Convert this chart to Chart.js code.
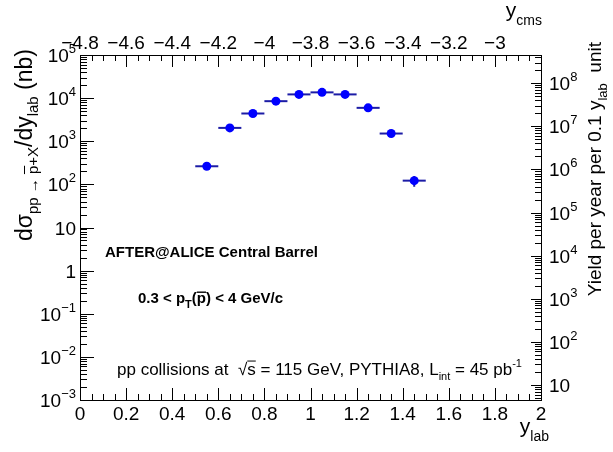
<!DOCTYPE html>
<html>
<head>
<meta charset="utf-8">
<script src="https://cdn.jsdelivr.net/npm/chart.js@4.4.0/dist/chart.umd.min.js"></script>
<style>
  html, body { margin: 0; padding: 0; background: #fff; }
  canvas { display: block; }
</style>
</head>
<body>
<canvas id="chart" width="613" height="452"></canvas>
<script>
// rapidity bins (lab frame) and cross sections
const yLab = [0.55, 0.65, 0.75, 0.85, 0.95, 1.05, 1.15, 1.25, 1.35, 1.45];
const yLabHalfBin = [0.05, 0.05, 0.05, 0.05, 0.05, 0.05, 0.05, 0.05, 0.05, 0.05];
const dSigmaNb = [263, 2040, 4400, 8500, 12200, 13600, 12200, 5950, 1510, 122];
const dSigmaErr = [0, 0, 0, 0, 0, 0, 0, 0, 0, 34];

// axes
const yLabTicks = [0, 0.2, 0.4, 0.6, 0.8, 1, 1.2, 1.4, 1.6, 1.8, 2];
const yLabTickLabels = ['0', '0.2', '0.4', '0.6', '0.8', '1', '1.2', '1.4', '1.6', '1.8', '2'];
const yCmsTicks = [-4.8, -4.6, -4.4, -4.2, -4, -3.8, -3.6, -3.4, -3.2, -3];
const yCmsTickLabels = ['\u22124.8', '\u22124.6', '\u22124.4', '\u22124.2', '\u22124', '\u22123.8', '\u22123.6', '\u22123.4', '\u22123.2', '\u22123'];
const sigmaDecades = [-3, -2, -1, 0, 1, 2, 3, 4, 5];
const yieldDecades = [1, 2, 3, 4, 5, 6, 7, 8];
const yieldPerNb = 4500; // 45 pb^-1 x 0.1 unit of y_lab

const FONT = "'Liberation Sans', Arial, Helvetica, sans-serif";
const LBL = 19;   // tick label size
const SUP = 13;   // exponent size

function fontOf(p) {
    return (p.bold ? 'bold ' : '') + p.size + 'px ' + FONT;
}

// draws a list of text pieces (sub/superscripts via dy), returns width
function drawRich(ctx, parts, x, y, align) {
    let w = 0;
    parts.forEach(p => {
        ctx.font = fontOf(p);
        p.w = ctx.measureText(p.t).width;
        w += p.w;
    });
    let cx = align === 'right' ? x - w : align === 'center' ? x - w / 2 : x;
    ctx.textAlign = 'left';
    ctx.textBaseline = 'alphabetic';
    parts.forEach(p => {
        ctx.font = fontOf(p);
        const by = y + (p.dy || 0);
        ctx.fillText(p.t, cx, by);
        if (p.bar) {
            const top = by - p.size * (p.barH || 0.78);
            ctx.beginPath();
            ctx.lineWidth = p.bold ? 1.4 : 1;
            ctx.moveTo(cx + (p.barFrom || 0), top);
            ctx.lineTo(cx + p.w, top);
            ctx.stroke();
        }
        cx += p.w;
    });
    return w;
}

function powLabel(d) {
    if (d === 0) return [{ t: '1', size: LBL }];
    if (d === 1) return [{ t: '10', size: LBL }];
    const e = d < 0 ? '\u2212' + (-d) : String(d);
    return [{ t: '10', size: LBL }, { t: e, size: SUP, dy: -9 }];
}

function logTicks(min, max) {
    const out = [];
    const d0 = Math.floor(Math.log10(min)), d1 = Math.ceil(Math.log10(max));
    for (let d = d0; d <= d1; d++) {
        for (let m = 1; m <= 9; m++) {
            const v = m * Math.pow(10, d);
            if (v >= min * 0.999 && v <= max * 1.001) out.push({ v, major: m === 1 });
        }
    }
    return out;
}

const rootAxes = {
    id: 'rootAxes',
    beforeDraw(chart) {
        const ctx = chart.ctx;
        ctx.save();
        ctx.fillStyle = '#fff';
        ctx.fillRect(0, 0, chart.width, chart.height);
        ctx.restore();
    },
    beforeDatasetsDraw(chart) {
        // horizontal bin-width bars and vertical errors
        const ctx = chart.ctx;
        const xs = chart.scales.x, ys = chart.scales.y;
        ctx.save();
        ctx.strokeStyle = '#1c1ca6';
        ctx.lineWidth = 2;
        yLab.forEach((x, i) => {
            const py = ys.getPixelForValue(dSigmaNb[i]);
            ctx.beginPath();
            ctx.moveTo(xs.getPixelForValue(x - yLabHalfBin[i]), py);
            ctx.lineTo(xs.getPixelForValue(x + yLabHalfBin[i]), py);
            ctx.stroke();
            if (dSigmaErr[i] > 0) {
                const px = xs.getPixelForValue(x);
                ctx.beginPath();
                ctx.moveTo(px, ys.getPixelForValue(dSigmaNb[i] - dSigmaErr[i]));
                ctx.lineTo(px, ys.getPixelForValue(dSigmaNb[i] + dSigmaErr[i]));
                ctx.stroke();
            }
        });
        ctx.restore();
    },
    afterDraw(chart) {
        const ctx = chart.ctx;
        const a = chart.chartArea;
        const xs = chart.scales.x, x2 = chart.scales.x2, ys = chart.scales.y, y2 = chart.scales.y2;
        ctx.save();
        ctx.strokeStyle = '#000';
        ctx.fillStyle = '#000';
        ctx.lineWidth = 1;
        ctx.strokeRect(Math.round(a.left) + 0.5, Math.round(a.top) + 0.5,
            Math.round(a.right - a.left), Math.round(a.bottom - a.top));

        const line = (x0, y0, x1, y1) => {
            ctx.beginPath();
            ctx.moveTo(x0, y0);
            ctx.lineTo(x1, y1);
            ctx.stroke();
        };

        // bottom and top axis ticks (every 0.05, major every 0.2)
        for (let i = 0; i <= 40; i++) {
            const len = i % 4 === 0 ? 12 : 6;
            const px = Math.round(xs.getPixelForValue(xs.min + i * 0.05)) + 0.5;
            line(px, a.bottom, px, a.bottom - len);
            const pt = Math.round(x2.getPixelForValue(x2.min + i * 0.05)) + 0.5;
            line(pt, a.top, pt, a.top + len);
        }
        // left axis ticks
        logTicks(ys.min, ys.max).forEach(t => {
            const py = Math.round(ys.getPixelForValue(t.v)) + 0.5;
            line(a.left, py, a.left + (t.major ? 14 : 7), py);
        });
        // right axis ticks
        logTicks(y2.min, y2.max).forEach(t => {
            const py = Math.round(y2.getPixelForValue(t.v)) + 0.5;
            line(a.right, py, a.right - (t.major ? 10 : 6), py);
        });

        // tick labels
        yLabTicks.forEach((v, i) => {
            drawRich(ctx, [{ t: yLabTickLabels[i], size: LBL }], xs.getPixelForValue(v), a.bottom + 20, 'center');
        });
        yCmsTicks.forEach((v, i) => {
            drawRich(ctx, [{ t: yCmsTickLabels[i], size: LBL }], x2.getPixelForValue(v), a.top - 6, 'center');
        });
        sigmaDecades.forEach(d => {
            drawRich(ctx, powLabel(d), a.left - 4, ys.getPixelForValue(Math.pow(10, d)) + 7, 'right');
        });
        yieldDecades.forEach(d => {
            drawRich(ctx, powLabel(d), a.right + 8, y2.getPixelForValue(Math.pow(10, d)) + 7, 'left');
        });

        // axis titles
        drawRich(ctx, [{ t: 'y', size: 21 }, { t: 'lab', size: 14, dy: 8 }], 549, 433, 'right');
        drawRich(ctx, [{ t: 'y', size: 21 }, { t: 'cms', size: 14, dy: 8 }], 542, 17, 'right');

        ctx.save();
        ctx.translate(32, 49);
        ctx.rotate(-Math.PI / 2);
        drawRich(ctx, [
            { t: 'd\u03c3', size: 23 },
            { t: 'pp \u2192 ', size: 15, dy: 6 },
            { t: 'p', size: 15, dy: 6, bar: true, barH: 0.9 },
            { t: '+X', size: 15, dy: 6 },
            { t: '/dy', size: 23 },
            { t: 'lab', size: 15, dy: 6 },
            { t: ' (nb)', size: 23 }
        ], 0, 0, 'right');
        ctx.restore();

        ctx.save();
        ctx.translate(601, 42);
        ctx.rotate(-Math.PI / 2);
        drawRich(ctx, [
            { t: 'Yield per year per 0.1 y', size: 19 },
            { t: 'lab', size: 13, dy: 6 },
            { t: '  unit', size: 19 }
        ], 0, 0, 'right');
        ctx.restore();

        // labels inside the frame
        drawRich(ctx, [{ t: 'AFTER@ALICE Central Barrel', size: 15, bold: true }], 105, 257, 'left');
        drawRich(ctx, [
            { t: '0.3 < p', size: 15, bold: true },
            { t: 'T', size: 11, bold: true, dy: 5 },
            { t: '(', size: 15, bold: true },
            { t: 'p', size: 15, bold: true, bar: true, barH: 0.72 },
            { t: ') < 4 GeV/c', size: 15, bold: true }
        ], 138, 303, 'left');
        drawRich(ctx, [
            { t: 'pp collisions at  \u221a', size: 17 },
            { t: 's', size: 17, bar: true, barH: 0.82 },
            { t: ' = 115 GeV, PYTHIA8, L', size: 17 },
            { t: 'int', size: 11, dy: 5 },
            { t: ' = 45 pb', size: 17 },
            { t: '-1', size: 11, dy: -8 }
        ], 117, 375, 'left');

        ctx.restore();
    }
};

new Chart(document.getElementById('chart'), {
    type: 'scatter',
    data: {
        datasets: [{
            data: yLab.map((x, i) => ({ x: x, y: dSigmaNb[i] })),
            pointRadius: 4.5,
            pointHoverRadius: 4.5,
            pointBackgroundColor: '#0000ff',
            pointBorderWidth: 0,
            borderWidth: 0
        }]
    },
    options: {
        responsive: false,
        animation: false,
        devicePixelRatio: 1,
        layout: { padding: { left: 80, top: 55, right: 72, bottom: 52 } },
        plugins: { legend: { display: false }, tooltip: { enabled: false } },
        scales: {
            x: { type: 'linear', min: 0, max: 2, display: false },
            x2: { type: 'linear', position: 'top', min: -4.8, max: -2.8, display: false },
            y: { type: 'logarithmic', min: 1e-3, max: 1e5, display: false },
            y2: { type: 'logarithmic', position: 'right', min: 1e-3 * yieldPerNb, max: 1e5 * yieldPerNb, display: false }
        }
    },
    plugins: [rootAxes]
});
</script>
</body>
</html>
